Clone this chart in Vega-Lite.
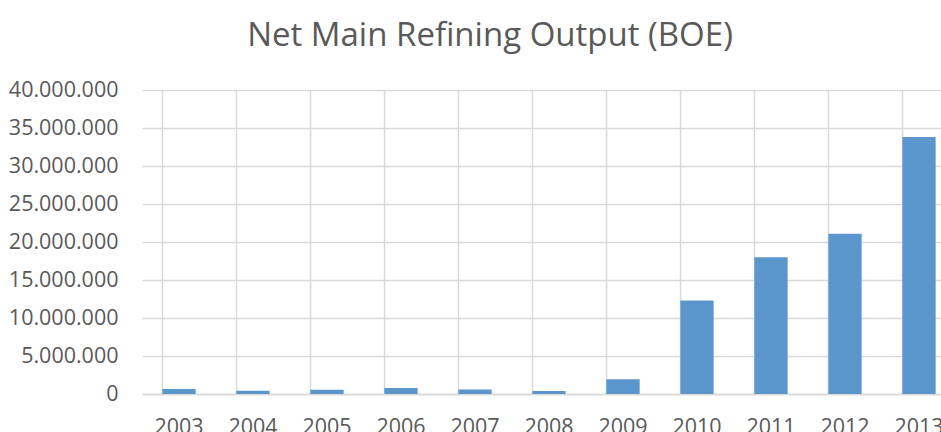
{
  "$schema": "https://vega.github.io/schema/vega-lite/v6.json",
  "autosize": "none",
  "padding": {"left": 142, "top": 90, "right": 0, "bottom": 38},
  "width": 814,
  "height": 304,
  "background": "white",
  "title": {
    "text": "Net Main Refining Output (BOE)",
    "font": "Open Sans",
    "fontSize": 33,
    "fontWeight": "normal",
    "color": "#595959",
    "anchor": "middle",
    "dx": -59,
    "offset": 26
  },
  "config": {
    "locale": {"number": {"decimal": ",", "thousands": ".", "grouping": [3], "currency": ["", ""]}},
    "view": {"stroke": null},
    "axis": {"labelFont": "Open Sans", "labelColor": "#595959", "labelFontSize": 21.5, "titleFont": "Open Sans"}
  },
  "data": {
    "values": [
      {"year": "2003", "boe": 650000},
      {"year": "2004", "boe": 420000},
      {"year": "2005", "boe": 560000},
      {"year": "2006", "boe": 800000},
      {"year": "2007", "boe": 580000},
      {"year": "2008", "boe": 400000},
      {"year": "2009", "boe": 1950000},
      {"year": "2010", "boe": 12300000},
      {"year": "2011", "boe": 18000000},
      {"year": "2012", "boe": 21100000},
      {"year": "2013", "boe": 33800000}
    ]
  },
  "layer": [
    {
      "mark": {"type": "bar", "color": "#5B96CC"},
      "encoding": {
        "x": {
          "field": "year", "type": "nominal", "title": null,
          "scale": {"paddingInner": 0.55, "paddingOuter": 0.275},
          "axis": {"labelAngle": 0, "ticks": false, "grid": false, "labelPadding": 22, "domainColor": "#d9d9d9", "domainWidth": 1.5}
        },
        "y": {
          "field": "boe", "type": "quantitative", "title": null,
          "scale": {"domain": [0, 40000000]},
          "axis": {"values": [0, 5000000, 10000000, 15000000, 20000000, 25000000, 30000000, 35000000, 40000000], "labelOverlap": false, "format": ",d", "ticks": false, "domain": false, "labelPadding": 24, "gridColor": "#d9d9d9", "gridWidth": 1.5}
        }
      }
    },
    {
      "mark": {"type": "bar", "opacity": 0},
      "encoding": {
        "x": {
          "field": "year", "type": "nominal", "title": null,
          "axis": {"labels": false, "ticks": false, "domain": false, "grid": true, "bandPosition": 0, "gridColor": "#d9d9d9", "gridWidth": 1.5, "zindex": 0}
        },
        "y": {
          "field": "boe", "type": "quantitative", "title": null,
          "axis": {"values": [0, 5000000, 10000000, 15000000, 20000000, 25000000, 30000000, 35000000, 40000000], "labelOverlap": false, "format": ",d", "ticks": false, "domain": false, "labelPadding": 24, "gridColor": "#d9d9d9", "gridWidth": 1.5}
        }
      }
    }
  ],
  "resolve": {"axis": {"x": "independent"}}
}
